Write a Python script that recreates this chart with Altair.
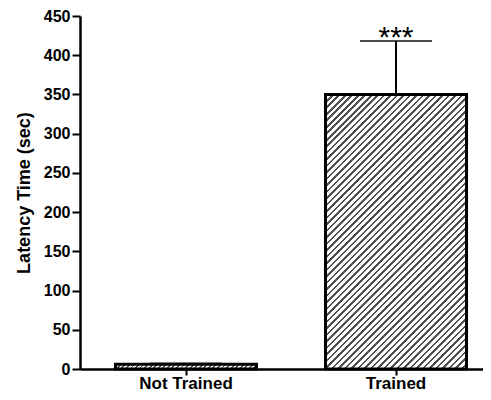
import altair as alt
import pandas as pd

# ---- data ----
groups = ["Not Trained", "Trained"]
means = [6, 350]
errors = [1, 68]
significance = ["", "***"]
y_ticks = [0, 50, 100, 150, 200, 250, 300, 350, 400, 450]

df = pd.DataFrame({"group": groups, "mean": means, "err": errors, "sig": significance})

W, H = 403, 353
FONT = "Liberation Sans"
YMAX = 450


def hatch(w, h, n, dark="#505050", frac=0.4):
    """Diagonal '/' hatching as a hard-stop linear gradient (bbox units), n stripes."""
    k = (w + h) * h / (w * w + h * h)
    stops = []
    for i in range(n):
        a, b, c = i / n, (i + frac) / n, (i + 1) / n
        stops += [
            {"offset": a, "color": dark},
            {"offset": b, "color": dark},
            {"offset": b, "color": "white"},
            {"offset": min(c, 1.0), "color": "white"},
        ]
    return {"gradient": "linear", "x1": 0, "y1": 0, "x2": k * w / h, "y2": k, "stops": stops}


bar_w = 141
grad_trained = hatch(bar_w, means[1] / YMAX * H, 64)
grad_not = hatch(bar_w, means[0] / YMAX * H, 32)

xscale = alt.Scale(domain=groups, paddingInner=0.3286, paddingOuter=0.1238, align=0.683)
yscale = alt.Scale(domain=[0, YMAX], nice=False)

x_axis = alt.Axis(title=None, labelAngle=0, labelFont=FONT, labelFontSize=17,
                  labelFontWeight="bold", labelColor="black", labelPadding=0,
                  domainColor="black", domainWidth=2.5, tickColor="black",
                  tickWidth=2, tickSize=6)
y_axis = alt.Axis(title="Latency Time (sec)", values=y_ticks, labelOverlap=False, grid=False,
                  labelFont=FONT, labelFontSize=16, labelFontWeight="bold", labelColor="black",
                  labelPadding=2, tickSize=8, tickWidth=2, tickColor="black",
                  domainColor="black", domainWidth=2.5, titleFont=FONT, titleFontSize=18,
                  titleFontWeight="bold", titleColor="black", titlePadding=10)

X = alt.X("group:N", scale=xscale, sort=groups, axis=x_axis)

base = alt.Chart(df)

bars = base.mark_bar(stroke="black", strokeWidth=3).encode(
    x=X,
    y=alt.Y("mean:Q", scale=yscale, axis=y_axis),
    fill=alt.condition("datum.group == 'Trained'", alt.value(grad_trained), alt.value(grad_not)),
)

err_base = base.transform_calculate(upper="datum.mean + datum.err")

err_rule = err_base.mark_rule(color="black", strokeWidth=2).encode(
    x=X,
    y=alt.Y("mean:Q", scale=yscale, axis=y_axis),
    y2="upper:Q",
)

err_cap = err_base.mark_tick(color="black", thickness=2, size=72).encode(
    x=X,
    y=alt.Y("upper:Q", scale=yscale, axis=y_axis),
)

stars = err_base.mark_text(font=FONT, fontSize=30, color="black", baseline="alphabetic", dy=6).encode(
    x=X,
    y=alt.Y("upper:Q", scale=yscale, axis=y_axis),
    text="sig:N",
)

chart = (
    alt.layer(bars, err_rule, err_cap, stars)
    .properties(width=W, height=H,
                autosize=alt.AutoSizeParams(type="none"),
                padding={"left": 72, "top": 8, "right": 0, "bottom": 23},
                background="white")
    .configure_view(stroke=None)
)

chart.save("out.html", embed_options={"renderer": "svg", "actions": False})
